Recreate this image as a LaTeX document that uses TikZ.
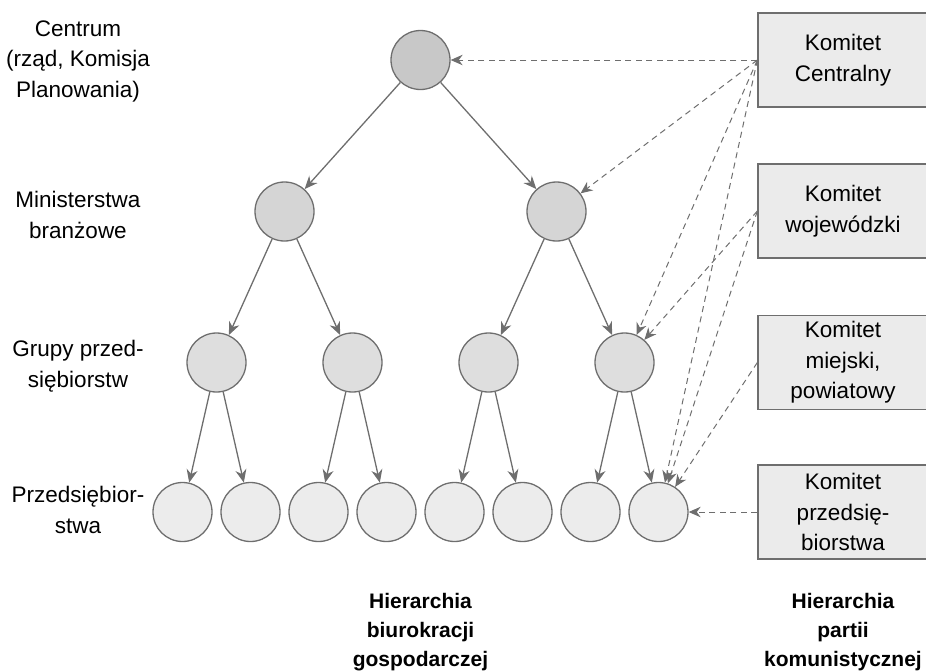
\documentclass[tikz,border=0pt]{standalone}
\usepackage{fontspec}
\setmainfont{Liberation Sans}
\usetikzlibrary{arrows.meta}
\definecolor{edgegray}{HTML}{6E6E6E}
\definecolor{fillone}{HTML}{C8C8C8}
\definecolor{filltwo}{HTML}{D5D5D5}
\definecolor{fillthree}{HTML}{DEDEDE}
\definecolor{fillfour}{HTML}{ECECEC}
\definecolor{boxfill}{HTML}{EBEBEB}

\begin{document}
\begin{tikzpicture}[
    x=1pt, y=-1pt,
    font=\fontsize{22.5}{30.5}\selectfont,
    org/.style={circle, draw=edgegray, line width=1.3pt, minimum size=59pt,
                inner sep=0pt},
    lvlone/.style={org, fill=fillone},
    lvltwo/.style={org, fill=filltwo},
    lvlthree/.style={org, fill=fillthree},
    lvlfour/.style={org, fill=fillfour},
    committee/.style={rectangle, draw=edgegray, line width=1.3pt, fill=boxfill,
                      minimum width=170pt, minimum height=94pt, inner sep=0pt,
                      align=center},
    rowlabel/.style={align=center},
    caption/.style={align=center, font=\fontsize{21}{29}\selectfont\bfseries},
    ctrl/.style={-{Stealth[length=13pt, width=11pt]}, edgegray, line width=1.3pt},
    party/.style={-{Stealth[length=12pt, width=10.5pt]}, edgegray, line width=1pt,
                  dash pattern=on 6pt off 4.5pt},
]
\useasboundingbox (0,0) rectangle (926,670);

% Bureaucracy tree, four levels.
\node[lvlone] (centre) at (420.5,60) {};
\node[lvltwo] (minL) at (284.5,211.5) {};
\node[lvltwo] (minR) at (556.5,211.5) {};
\node[lvlthree] (grpA) at (216.5,362.5) {};
\node[lvlthree] (grpB) at (352.5,362.5) {};
\node[lvlthree] (grpC) at (488.5,362.5) {};
\node[lvlthree] (grpD) at (624.5,362.5) {};
\node[lvlfour] (entA) at (182.5,512) {};
\node[lvlfour] (entB) at (250.5,512) {};
\node[lvlfour] (entC) at (318.5,512) {};
\node[lvlfour] (entD) at (386.5,512) {};
\node[lvlfour] (entE) at (454.5,512) {};
\node[lvlfour] (entF) at (522.5,512) {};
\node[lvlfour] (entG) at (590.5,512) {};
\node[lvlfour] (entH) at (658.5,512) {};

\foreach \up/\down in {centre/minL, centre/minR, minL/grpA, minL/grpB,
    minR/grpC, minR/grpD, grpA/entA, grpA/entB, grpB/entC, grpB/entD,
    grpC/entE, grpC/entF, grpD/entG, grpD/entH}
  \draw[ctrl] (\up) -- (\down);

% Party committees on the right.
\node[committee] (komCen) at (843,60) {Komitet\\Centralny};
\node[committee] (komWoj) at (843,211) {Komitet\\wojewódzki};
\node[committee] (komMie) at (843,362.5) {Komitet\\miejski,\\powiatowy};
\node[committee] (komPrz) at (843,512) {Komitet\\przedsię-\\biorstwa};

\draw[party] (komCen.west) -- (centre);
\draw[party] (komCen.west) -- (minR);
\draw[party] (komCen.west) -- (grpD);
\draw[party] (komCen.west) -- (entH);
\draw[party] (komWoj.west) -- (grpD);
\draw[party] (komWoj.west) -- (entH);
\draw[party] (komMie.west) -- (entH);
\draw[party] (komPrz.west) -- (entH);

% Level names.
\node[rowlabel] (rowCen) at (78,61) {Centrum\\(rząd, Komisja\\Planowania)};
\node[rowlabel] (rowMin) at (78,215) {Ministerstwa\\branżowe};
\node[rowlabel] (rowGrp) at (78,366) {Grupy przed-\\siębiorstw};
\node[rowlabel] (rowEnt) at (78,510) {Przedsiębior-\\stwa};

\node[caption] (capEco) at (420.5,632) {Hierarchia\\biurokracji\\gospodarczej};
\node[caption] (capPar) at (843,632) {Hierarchia\\partii\\komunistycznej};
\end{tikzpicture}
\end{document}
